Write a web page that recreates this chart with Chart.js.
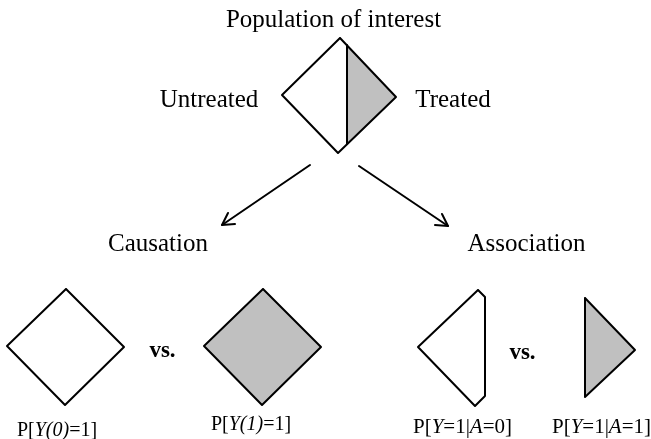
<!DOCTYPE html>
<html>
<head>
<meta charset="utf-8">
<script src="https://cdn.jsdelivr.net/npm/chart.js@4"></script>
<style>
  html, body { margin: 0; padding: 0; background: #fff; }
  #wrap { width: 651px; height: 439px; position: relative; }
</style>
</head>
<body>
<div id="wrap"><canvas id="diagram"></canvas></div>
<script>
// Shape outlines (diagram units = picture pixels, y down)
const population = [[340, 38], [396, 97], [338, 153], [282, 95], [340, 38]];
const treatedHalf = [[347, 45], [396, 97], [347, 144]];
const divider = [[347, 45], [347, 144]];
const causeUntreated = [[66, 289], [124, 347], [65, 405], [7, 346], [66, 289]];
const causeTreated = [[263, 289], [321, 347], [262, 405], [204, 346], [263, 289]];
const assocUntreated = [[478, 290], [485, 297], [485, 396], [475, 406], [418, 347], [478, 290]];
const assocTreated = [[585, 298], [635, 350], [585, 397], [585, 298]];
const arrowLeft = [[310, 165], [222, 225]];
const arrowLeftHead = [[235, 224], [222, 225], [228, 213]];
const arrowRight = [[359, 166], [448, 226]];
const arrowRightHead = [[442, 214], [448, 226], [435, 225]];

// Texts: each label is a list of runs [text, italic]
const labels = [
    [['Population of interest', false]],
    [['Untreated', false]],
    [['Treated', false]],
    [['Causation', false]],
    [['Association', false]],
    [['vs.', false]],
    [['vs.', false]],
    [['P[', false], ['Y(0)', true], ['=1]', false]],
    [['P[', false], ['Y(1)', true], ['=1]', false]],
    [['P[', false], ['Y', true], ['=1|', false], ['A', true], ['=0]', false]],
    [['P[', false], ['Y', true], ['=1|', false], ['A', true], ['=1]', false]]
];

// where each label sits: centre x, baseline y, font size, bold
const labelLayout = [
    { x: 333.5, y: 27, size: 25 },
    { x: 209, y: 107, size: 25 },
    { x: 453, y: 107, size: 25 },
    { x: 158, y: 251, size: 25 },
    { x: 526.5, y: 251, size: 25 },
    { x: 162.5, y: 357, size: 23, bold: true },
    { x: 522.5, y: 359, size: 23, bold: true },
    { x: 57, y: 436, size: 20 },
    { x: 251, y: 430, size: 20 },
    { x: 462.5, y: 433, size: 21 },
    { x: 601.5, y: 433, size: 21 }
];

const GRAY = '#c0c0c0';
const FONT = '"Liberation Serif", "Times New Roman", serif';

function pts(list) {
    return list.map(p => ({ x: p[0], y: p[1] }));
}

function shape(list, fillColor, stroke) {
    return {
        data: pts(list),
        showLine: stroke !== false,
        borderColor: '#000',
        borderWidth: 2,
        borderJoinStyle: 'round',
        borderCapStyle: 'round',
        pointRadius: 0,
        tension: 0,
        fill: false,
        fillColor: fillColor
    };
}

// fills closed outlines before the strokes are drawn
const polyFill = {
    id: 'polyFill',
    beforeDatasetsDraw(chart) {
        const ctx = chart.ctx;
        chart.data.datasets.forEach((ds, i) => {
            if (!ds.fillColor) return;
            const meta = chart.getDatasetMeta(i);
            ctx.save();
            ctx.beginPath();
            meta.data.forEach((el, j) => {
                if (j === 0) ctx.moveTo(el.x, el.y);
                else ctx.lineTo(el.x, el.y);
            });
            ctx.closePath();
            ctx.fillStyle = ds.fillColor;
            ctx.fill();
            ctx.restore();
        });
    }
};

const textLabels = {
    id: 'textLabels',
    afterDatasetsDraw(chart) {
        const ctx = chart.ctx;
        const xs = chart.scales.x, ys = chart.scales.y;
        ctx.save();
        ctx.fillStyle = '#000';
        ctx.textBaseline = 'alphabetic';
        ctx.textAlign = 'left';
        labels.forEach((runs, i) => {
            const lay = labelLayout[i];
            const fontFor = it => (it ? 'italic ' : '') + (lay.bold ? 'bold ' : '') + lay.size + 'px ' + FONT;
            let total = 0;
            runs.forEach(r => { ctx.font = fontFor(r[1]); total += ctx.measureText(r[0]).width; });
            let x = xs.getPixelForValue(lay.x) - total / 2;
            const y = ys.getPixelForValue(lay.y);
            runs.forEach(r => {
                ctx.font = fontFor(r[1]);
                ctx.fillText(r[0], x, y);
                x += ctx.measureText(r[0]).width;
            });
        });
        ctx.restore();
    }
};

new Chart(document.getElementById('diagram'), {
    type: 'scatter',
    data: {
        datasets: [
            shape(treatedHalf, GRAY, false),
            shape(population, null),
            shape(divider, null),
            shape(causeUntreated, null),
            shape(causeTreated, GRAY),
            shape(assocUntreated, null),
            shape(assocTreated, GRAY),
            shape(arrowLeft, null),
            shape(arrowLeftHead, null),
            shape(arrowRight, null),
            shape(arrowRightHead, null)
        ]
    },
    options: {
        responsive: true,
        maintainAspectRatio: false,
        animation: false,
        layout: { padding: 0 },
        scales: {
            x: { type: 'linear', min: 0, max: 651, display: false },
            y: { type: 'linear', min: 0, max: 439, reverse: true, display: false }
        },
        plugins: {
            legend: { display: false },
            tooltip: { enabled: false }
        }
    },
    plugins: [polyFill, textLabels]
});
</script>
</body>
</html>
